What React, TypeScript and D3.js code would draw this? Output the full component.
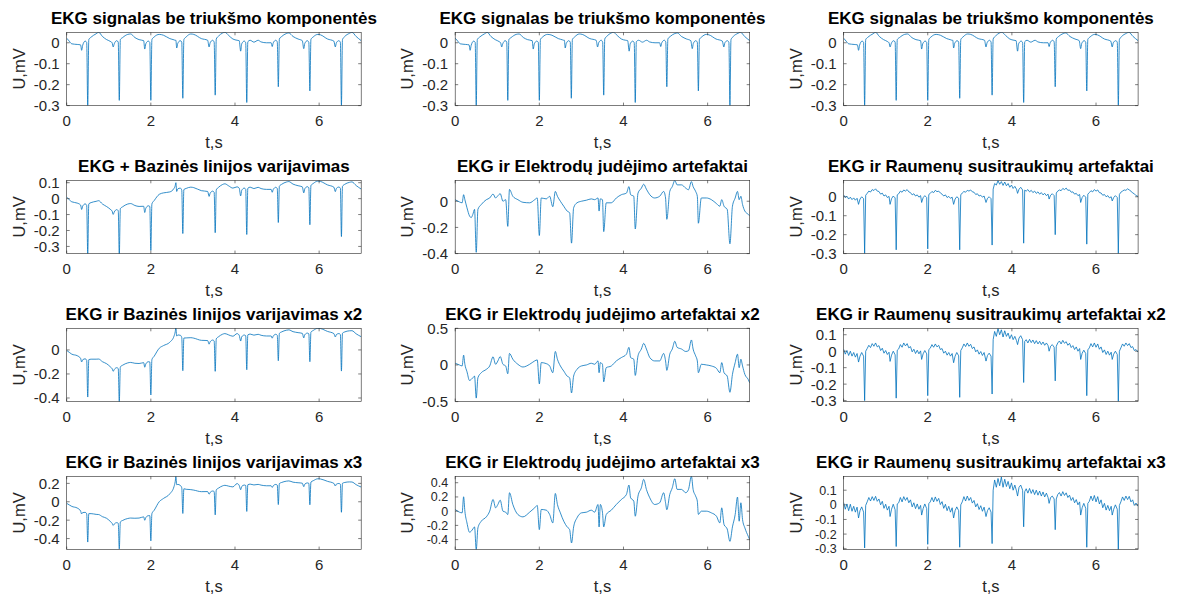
import React from "react";
import * as d3 from "d3";

// figure geometry (MATLAB style 4x3 subplot grid)
const W = 1181;
const H = 597;
const colLeft = [66.7, 455.2, 843.6];
const rowTop = [32.3, 180.3, 328.3, 476.3];
const plotW = 294.5;
const plotH = 73.3;

const xTicks = [0, 2, 4, 6];

// time samples shared by the clean signal and the baseline-wander panels
const ekgT = [
  0, 0.06, 0.12, 0.25, 0.33, 0.355, 0.38, 0.44, 0.475, 0.5, 0.525, 0.58, 0.7, 0.76, 0.85, 0.95,
  1.05, 1.08, 1.105, 1.13, 1.19, 1.225, 1.25, 1.275, 1.33, 1.45, 1.52, 1.62, 1.72, 1.83, 1.855,
  1.88, 1.94, 1.975, 2.0, 2.025, 2.08, 2.2, 2.3, 2.45, 2.55, 2.58, 2.595, 2.615, 2.64, 2.7, 2.735,
  2.76, 2.785, 2.84, 2.95, 3.02, 3.2, 3.35, 3.385, 3.41, 3.47, 3.505, 3.53, 3.555, 3.61, 3.7, 3.76,
  3.85, 3.95, 4.05, 4.1, 4.135, 4.16, 4.22, 4.255, 4.28, 4.305, 4.36, 4.45, 4.55, 4.62, 4.75, 4.86,
  4.885, 4.91, 4.97, 5.005, 5.03, 5.055, 5.11, 5.22, 5.28, 5.38, 5.5, 5.6, 5.635, 5.66, 5.72, 5.755,
  5.78, 5.805, 5.86, 5.97, 6.03, 6.2, 6.35, 6.385, 6.41, 6.47, 6.505, 6.53, 6.555, 6.61, 6.72, 6.78,
  6.88, 7.0,
];

const ekgClean = [
  0.022, 0.008, -0.005, -0.008, -0.01, -0.036, -0.012, 0.008, 0.002, -0.3, 0.015, 0.027, 0.043, 0.05, 0.03, 0.015,
  0.005, 0.0, -0.02, -0.005, 0.01, 0.003, -0.275, 0.015, 0.025, 0.04, 0.042, 0.025, 0.015, 0.01, -0.03,
  -0.005, 0.008, 0.002, -0.275, 0.015, 0.028, 0.04, 0.036, 0.02, 0.014, 0.012, 0.012, -0.025, -0.003, 0.01, 0.003,
  -0.265, 0.015, 0.028, 0.042, 0.04, 0.02, 0.012, -0.02, 0.0, 0.012, 0.003, -0.25, 0.018, 0.032, 0.046, 0.05,
  0.035, 0.018, 0.012, 0.01, -0.04, -0.005, 0.008, 0.0, -0.285, 0.005, 0.012, 0.003, 0.012, 0.004, 0.0, 0.0,
  -0.018, 0.0, 0.012, 0.004, -0.21, 0.018, 0.03, 0.044, 0.047, 0.03, 0.018, 0.01, -0.028, -0.003, 0.01, 0.002,
  -0.23, 0.016, 0.028, 0.04, 0.038, 0.018, 0.008, -0.02, 0.0, 0.01, 0.002, -0.3, 0.015, 0.03, 0.045, 0.05,
  0.03, 0.01,
];

const baseX1 = [
  0.009, -0.006, -0.02, -0.028, -0.04, -0.068, -0.047, -0.033, -0.042, -0.346, -0.033, -0.025, -0.017, -0.013, -0.034, -0.05,
  -0.07, -0.078, -0.099, -0.084, -0.069, -0.076, -0.354, -0.063, -0.051, -0.034, -0.031, -0.043, -0.049, -0.048, -0.087,
  -0.061, -0.045, -0.049, -0.325, -0.033, -0.012, 0.027, 0.036, 0.042, 0.064, 0.082, 0.1, 0.045, 0.061, 0.066, 0.053,
  -0.219, 0.057, 0.064, 0.072, 0.069, 0.05, 0.045, 0.014, 0.034, 0.047, 0.039, -0.214, 0.055, 0.071, 0.088, 0.093,
  0.08, 0.066, 0.074, 0.066, 0.017, 0.052, 0.066, 0.059, -0.225, 0.065, 0.072, 0.063, 0.071, 0.063, 0.058, 0.058,
  0.04, 0.058, 0.071, 0.063, -0.15, 0.078, 0.09, 0.104, 0.107, 0.091, 0.081, 0.074, 0.036, 0.062, 0.075, 0.068,
  -0.164, 0.082, 0.095, 0.11, 0.108, 0.086, 0.072, 0.044, 0.064, 0.073, 0.065, -0.238, 0.077, 0.09, 0.102, 0.105,
  0.082, 0.06,
];

const baseX2 = [
  -0.004, -0.02, -0.035, -0.048, -0.07, -0.1, -0.082, -0.074, -0.086, -0.392, -0.081, -0.077, -0.077, -0.076, -0.098, -0.115,
  -0.145, -0.156, -0.178, -0.163, -0.148, -0.155, -0.433, -0.141, -0.127, -0.108, -0.104, -0.111, -0.113, -0.106, -0.144,
  -0.117, -0.098, -0.1, -0.375, -0.081, -0.052, 0.014, 0.036, 0.064, 0.114, 0.152, 0.188, 0.115, 0.125, 0.122, 0.103,
  -0.173, 0.099, 0.1, 0.102, 0.098, 0.08, 0.078, 0.048, 0.068, 0.082, 0.075, -0.178, 0.092, 0.11, 0.13, 0.136,
  0.125, 0.114, 0.136, 0.122, 0.074, 0.109, 0.124, 0.118, -0.165, 0.125, 0.132, 0.123, 0.13, 0.122, 0.116, 0.116,
  0.098, 0.116, 0.13, 0.122, -0.09, 0.138, 0.15, 0.164, 0.167, 0.152, 0.144, 0.138, 0.1, 0.127, 0.14, 0.134,
  -0.098, 0.148, 0.162, 0.18, 0.178, 0.154, 0.136, 0.108, 0.128, 0.136, 0.128, -0.176, 0.139, 0.15, 0.159, 0.16,
  0.134, 0.11,
];

const baseX3 = [
  -0.017, -0.034, -0.05, -0.068, -0.1, -0.132, -0.117, -0.115, -0.13, -0.438, -0.129, -0.129, -0.137, -0.139, -0.162, -0.18,
  -0.22, -0.234, -0.257, -0.242, -0.227, -0.234, -0.512, -0.219, -0.203, -0.182, -0.177, -0.179, -0.177, -0.164, -0.201,
  -0.173, -0.151, -0.151, -0.425, -0.129, -0.092, 0.001, 0.036, 0.086, 0.164, 0.222, 0.276, 0.185, 0.189, 0.178, 0.153,
  -0.127, 0.141, 0.136, 0.132, 0.127, 0.11, 0.111, 0.082, 0.102, 0.117, 0.111, -0.142, 0.129, 0.149, 0.172, 0.179,
  0.17, 0.162, 0.198, 0.178, 0.131, 0.166, 0.182, 0.177, -0.105, 0.185, 0.192, 0.183, 0.189, 0.181, 0.174, 0.174,
  0.156, 0.174, 0.189, 0.181, -0.03, 0.198, 0.21, 0.224, 0.227, 0.213, 0.207, 0.202, 0.164, 0.192, 0.205, 0.2,
  -0.032, 0.214, 0.229, 0.25, 0.248, 0.222, 0.2, 0.172, 0.192, 0.199, 0.191, -0.114, 0.201, 0.21, 0.216, 0.215,
  0.186, 0.16,
];

// electrode motion artefact panels
const elecT = [
  0, 0.1, 0.165, 0.2, 0.23, 0.28, 0.34, 0.38, 0.42, 0.46,
  0.5, 0.54, 0.62, 0.74, 0.82, 0.9, 0.96, 1.015, 1.07, 1.135,
  1.2, 1.25, 1.29, 1.37, 1.49, 1.61, 1.77, 1.89, 1.95, 2.0,
  2.045, 2.165, 2.245, 2.32, 2.38, 2.43, 2.5, 2.58, 2.66, 2.72,
  2.765, 2.815, 2.895, 3.0, 3.12, 3.235, 3.315, 3.395, 3.42, 3.45,
  3.5, 3.53, 3.59, 3.71, 3.83, 3.95, 4.07, 4.13, 4.17, 4.245,
  4.28, 4.345, 4.425, 4.48, 4.545, 4.625, 4.74, 4.86, 4.955, 5.0,
  5.03, 5.1, 5.16, 5.22, 5.275, 5.38, 5.48, 5.545, 5.615, 5.655,
  5.715, 5.755, 5.78, 5.85, 5.97, 6.09, 6.21, 6.29, 6.335, 6.39,
  6.465, 6.53, 6.59, 6.655, 6.71, 6.75, 6.79, 6.83, 6.885, 6.965,
  7.0,
];

const elecX1 = [
  0.012, -0.005, -0.012, 0.05, 0.012, -0.05, -0.112, -0.125, -0.1, -0.062,
  -0.39, -0.062, -0.025, 0.012, 0.025, 0.055, 0.025, 0.042, 0.058, 0.0,
  0.012, -0.192, 0.09, 0.038, 0.012, -0.008, -0.012, 0.012, 0.025, -0.262,
  0.025, 0.018, 0.038, -0.042, 0.075, 0.038, 0.0, -0.038, -0.075, -0.088,
  -0.32, -0.05, -0.012, 0.0, 0.008, 0.018, 0.012, 0.025, -0.075, 0.018,
  0.012, -0.232, -0.012, -0.012, 0.025, 0.05, 0.062, 0.112, 0.05, 0.038,
  -0.212, 0.062, 0.1, 0.13, 0.092, 0.05, 0.025, 0.038, 0.075, 0.025,
  -0.138, 0.075, 0.112, 0.158, 0.125, 0.125, 0.1, 0.088, 0.15, 0.112,
  0.075, 0.038, -0.168, 0.025, 0.025, 0.012, -0.018, -0.038, 0.012, -0.038,
  -0.062, -0.325, -0.038, 0.025, 0.075, 0.012, 0.038, -0.025, -0.075, -0.1,
  -0.112,
];

const elecX2 = [
  0.023, 0.0, -0.014, 0.134, 0.009, -0.092, -0.212, -0.198, -0.175, -0.152,
  -0.452, -0.175, -0.106, -0.06, -0.014, 0.111, 0.009, 0.055, 0.115, 0.009,
  -0.014, -0.12, 0.157, 0.078, 0.009, -0.028, 0.009, 0.055, 0.069, -0.258,
  0.032, 0.018, -0.014, -0.106, 0.184, 0.078, -0.014, -0.083, -0.152, -0.175,
  -0.382, -0.152, -0.06, -0.014, 0.0, 0.023, 0.009, 0.055, -0.106, 0.032,
  0.009, -0.23, -0.037, -0.014, 0.055, 0.101, 0.147, 0.24, 0.101, 0.078,
  -0.143, 0.124, 0.217, 0.295, 0.217, 0.101, 0.055, 0.055, 0.157, 0.055,
  -0.074, 0.147, 0.217, 0.323, 0.24, 0.217, 0.184, 0.194, 0.341, 0.217,
  0.124, 0.055, -0.106, 0.009, 0.0, -0.014, -0.046, -0.106, 0.032, -0.106,
  -0.152, -0.373, -0.129, 0.032, 0.147, -0.037, 0.078, -0.014, -0.129, -0.198,
  -0.244,
];

const elecX3 = [
  0.024, -0.014, -0.024, 0.202, 0.0, -0.165, -0.296, -0.282, -0.25, -0.221,
  -0.54, -0.235, -0.141, -0.08, 0.0, 0.165, 0.047, 0.094, 0.155, 0.0,
  -0.014, -0.047, 0.259, 0.094, -0.047, -0.08, -0.014, 0.047, 0.08, -0.259,
  0.024, 0.014, -0.047, -0.165, 0.249, 0.094, -0.024, -0.141, -0.221, -0.259,
  -0.447, -0.221, -0.094, -0.024, -0.014, 0.014, -0.014, 0.094, -0.221, 0.094,
  -0.014, -0.221, -0.047, 0.014, 0.094, 0.165, 0.235, 0.367, 0.188, 0.141,
  -0.071, 0.212, 0.329, 0.447, 0.306, 0.188, 0.094, 0.118, 0.259, 0.118,
  0.02, 0.235, 0.329, 0.456, 0.306, 0.306, 0.259, 0.306, 0.49, 0.306,
  0.212, 0.141, -0.045, 0.0, 0.0, -0.024, -0.071, -0.165, 0.047, -0.188,
  -0.25, -0.424, -0.221, -0.047, 0.198, -0.141, 0.118, -0.118, -0.235, -0.353,
  -0.4,
];

// muscle contraction artefact panels
const muscT = [
  0, 0.04, 0.08, 0.12, 0.16, 0.2, 0.24, 0.28, 0.32,
  0.355, 0.39, 0.43, 0.475, 0.5, 0.525,
  0.56, 0.6, 0.64, 0.68, 0.72, 0.76, 0.8, 0.84, 0.88, 0.92, 0.96, 1.0, 1.04, 1.08,
  1.105, 1.14, 1.18, 1.225, 1.25, 1.275,
  1.31, 1.35, 1.39, 1.43, 1.47, 1.51, 1.55, 1.59, 1.63, 1.67, 1.71, 1.75, 1.79, 1.83,
  1.855, 1.89, 1.93, 1.975, 2.0, 2.025,
  2.06, 2.1, 2.14, 2.18, 2.22, 2.26, 2.3, 2.34, 2.38, 2.42, 2.46, 2.5, 2.54, 2.58,
  2.615, 2.65, 2.69, 2.735, 2.76, 2.785,
  2.82, 2.86, 2.9, 2.94, 2.98, 3.02, 3.06, 3.1, 3.14, 3.18, 3.22, 3.26, 3.3, 3.34,
  3.385, 3.42, 3.46, 3.505, 3.53, 3.555,
  3.59, 3.63, 3.67, 3.71, 3.75, 3.79, 3.83, 3.87, 3.91, 3.95, 3.99, 4.03, 4.07, 4.11,
  4.135, 4.17, 4.21, 4.255, 4.28, 4.305,
  4.34, 4.38, 4.42, 4.46, 4.5, 4.54, 4.58, 4.62, 4.66, 4.7, 4.74, 4.78, 4.82, 4.86,
  4.885, 4.92, 4.96, 5.005, 5.03, 5.055,
  5.09, 5.13, 5.17, 5.21, 5.25, 5.29, 5.33, 5.37, 5.41, 5.45, 5.49, 5.53, 5.57, 5.61,
  5.635, 5.67, 5.71, 5.755, 5.78, 5.805,
  5.84, 5.88, 5.92, 5.96, 6.0, 6.04, 6.08, 6.12, 6.16, 6.2, 6.24, 6.28, 6.32, 6.36,
  6.385, 6.42, 6.46, 6.505, 6.53, 6.555,
  6.59, 6.63, 6.67, 6.71, 6.75, 6.79, 6.83, 6.87, 6.91, 6.95, 7.0,
];

const muscX1 = [
  0.01, -0.004, 0.003, -0.012, -0.002, -0.015, -0.006, -0.018, -0.008,
  -0.04, -0.012, 0.0, -0.01, -0.3, 0.008,
  0.018, 0.03, 0.025, 0.038, 0.033, 0.042, 0.03, 0.028, 0.014, 0.019, 0.004, 0.01, -0.004, 0.002,
  -0.04, -0.01, 0.004, -0.006, -0.28, 0.01,
  0.016, 0.03, 0.024, 0.036, 0.03, 0.038, 0.026, 0.022, 0.01, 0.016, 0.004, 0.01, -0.002, 0.006,
  -0.03, -0.005, 0.006, -0.004, -0.275, 0.012,
  0.018, 0.028, 0.022, 0.034, 0.027, 0.03, 0.02, 0.014, 0.004, 0.01, -0.004, 0.002, -0.008, -0.002,
  -0.04, -0.012, 0.0, -0.008, -0.28, 0.01,
  0.02, 0.028, 0.024, 0.034, 0.03, 0.036, 0.026, 0.024, 0.012, 0.016, 0.004, 0.008, -0.002, 0.004,
  -0.03, -0.008, 0.0, -0.01, -0.255, 0.04,
  0.07, 0.062, 0.085, 0.066, 0.08, 0.06, 0.078, 0.058, 0.07, 0.05, 0.062, 0.044, 0.055, 0.04,
  0.018, 0.04, 0.05, 0.036, -0.245, 0.035,
  0.03, 0.038, 0.026, 0.034, 0.022, 0.03, 0.018, 0.026, 0.014, 0.022, 0.01, 0.018, 0.006, 0.014,
  -0.012, 0.008, 0.016, 0.006, -0.2, 0.02,
  0.03, 0.036, 0.032, 0.044, 0.038, 0.046, 0.034, 0.036, 0.024, 0.026, 0.014, 0.018, 0.006, 0.012,
  -0.03, -0.004, 0.008, -0.002, -0.25, 0.014,
  0.022, 0.032, 0.026, 0.038, 0.03, 0.036, 0.022, 0.02, 0.008, 0.012, 0.0, 0.006, -0.006, 0.0,
  -0.022, -0.004, 0.006, -0.004, -0.3, 0.012,
  0.024, 0.03, 0.036, 0.034, 0.042, 0.036, 0.03, 0.02, 0.016, 0.006, 0.002,
];

const muscX2 = [
  0.012, -0.018, 0.004, -0.026, 0.0, -0.03, -0.008, -0.036, -0.014,
  -0.066, -0.03, -0.008, -0.03, -0.3, 0.0,
  0.016, 0.036, 0.022, 0.046, 0.03, 0.05, 0.026, 0.034, 0.004, 0.018, -0.012, 0.004, -0.02, -0.006,
  -0.062, -0.024, 0.0, -0.022, -0.285, 0.006,
  0.014, 0.04, 0.024, 0.05, 0.032, 0.046, 0.02, 0.028, -0.004, 0.012, -0.014, 0.006, -0.016, 0.002,
  -0.05, -0.016, 0.004, -0.016, -0.27, 0.01,
  0.018, 0.04, 0.024, 0.044, 0.026, 0.036, 0.01, 0.016, -0.012, 0.0, -0.024, -0.008, -0.03, -0.014,
  -0.07, -0.03, -0.008, -0.028, -0.28, 0.004,
  0.02, 0.044, 0.028, 0.05, 0.03, 0.042, 0.016, 0.026, -0.004, 0.008, -0.018, -0.002, -0.026, -0.008,
  -0.06, -0.026, -0.012, -0.03, -0.26, 0.07,
  0.12, 0.09, 0.138, 0.1, 0.13, 0.086, 0.124, 0.09, 0.11, 0.076, 0.1, 0.07, 0.09, 0.064,
  0.04, 0.08, 0.094, 0.07, -0.19, 0.06,
  0.07, 0.05, 0.072, 0.052, 0.068, 0.046, 0.064, 0.044, 0.06, 0.04, 0.056, 0.036, 0.05, 0.034,
  0.0, 0.03, 0.04, 0.024, -0.18, 0.03,
  0.05, 0.062, 0.044, 0.066, 0.048, 0.058, 0.036, 0.048, 0.022, 0.034, 0.01, 0.026, 0.0, 0.016,
  -0.05, -0.012, 0.006, -0.014, -0.27, 0.008,
  0.02, 0.046, 0.026, 0.05, 0.024, 0.044, 0.012, 0.026, -0.008, 0.008, -0.02, 0.0, -0.024, -0.006,
  -0.05, -0.018, 0.0, -0.02, -0.305, 0.0,
  0.02, 0.044, 0.03, 0.05, 0.034, 0.046, 0.022, 0.028, 0.004, 0.01, -0.006,
];

const muscX3 = [
  0.016, -0.03, 0.006, -0.04, 0.004, -0.044, -0.01, -0.05, -0.016,
  -0.09, -0.04, -0.014, -0.05, -0.295, -0.004,
  0.02, 0.05, 0.026, 0.056, 0.03, 0.058, 0.024, 0.04, 0.0, 0.024, -0.024, 0.004, -0.036, -0.01,
  -0.08, -0.03, 0.004, -0.034, -0.285, 0.006,
  0.014, 0.05, 0.02, 0.056, 0.03, 0.05, 0.014, 0.034, -0.014, 0.014, -0.026, 0.006, -0.03, -0.004,
  -0.07, -0.026, 0.006, -0.026, -0.27, 0.008,
  0.02, 0.05, 0.02, 0.054, 0.024, 0.044, 0.002, 0.022, -0.024, 0.004, -0.04, -0.01, -0.05, -0.02,
  -0.09, -0.04, -0.014, -0.04, -0.29, 0.0,
  0.02, 0.056, 0.026, 0.06, 0.03, 0.05, 0.012, 0.03, -0.014, 0.008, -0.032, -0.006, -0.044, -0.016,
  -0.08, -0.04, -0.02, -0.05, -0.265, 0.1,
  0.17, 0.12, 0.18, 0.13, 0.19, 0.12, 0.175, 0.125, 0.16, 0.11, 0.15, 0.1, 0.135, 0.095,
  0.06, 0.12, 0.135, 0.1, -0.15, 0.09,
  0.11, 0.08, 0.112, 0.078, 0.104, 0.07, 0.1, 0.066, 0.094, 0.06, 0.088, 0.054, 0.08, 0.05,
  0.01, 0.05, 0.06, 0.04, -0.17, 0.04,
  0.07, 0.084, 0.06, 0.09, 0.064, 0.082, 0.05, 0.066, 0.03, 0.05, 0.014, 0.036, 0.0, 0.02,
  -0.07, -0.02, 0.01, -0.024, -0.29, 0.01,
  0.024, 0.06, 0.028, 0.064, 0.02, 0.056, 0.006, 0.034, -0.02, 0.01, -0.036, -0.004, -0.04, -0.01,
  -0.07, -0.03, 0.0, -0.03, -0.306, -0.004,
  0.02, 0.054, 0.03, 0.06, 0.036, 0.058, 0.02, 0.034, -0.004, 0.012, -0.01,
];

// panel titles, y limits and y ticks, row by row
const titles = [
  ["EKG signalas be triukšmo komponentės", "EKG signalas be triukšmo komponentės", "EKG signalas be triukšmo komponentės"],
  ["EKG + Bazinės linijos varijavimas", "EKG ir Elektrodų judėjimo artefaktai", "EKG ir Raumenų susitraukimų artefaktai"],
  ["EKG ir Bazinės linijos varijavimas x2", "EKG ir Elektrodų judėjimo artefaktai x2", "EKG ir Raumenų susitraukimų artefaktai x2"],
  ["EKG ir Bazinės linijos varijavimas x3", "EKG ir Elektrodų judėjimo artefaktai x3", "EKG ir Raumenų susitraukimų artefaktai x3"],
];

const yLims = [
  [[-0.3, 0.05], [-0.3, 0.05], [-0.3, 0.05]],
  [[-0.345, 0.115], [-0.4, 0.16], [-0.3, 0.087]],
  [[-0.43, 0.18], [-0.5, 0.5], [-0.306, 0.139]],
  [[-0.52, 0.277], [-0.54, 0.49], [-0.306, 0.195]],
];

const yTicks = [
  [[-0.3, -0.2, -0.1, 0], [-0.3, -0.2, -0.1, 0], [-0.3, -0.2, -0.1, 0]],
  [[-0.3, -0.2, -0.1, 0, 0.1], [-0.4, -0.2, 0], [-0.3, -0.2, -0.1, 0]],
  [[-0.4, -0.2, 0], [-0.5, 0, 0.5], [-0.3, -0.2, -0.1, 0, 0.1]],
  [[-0.4, -0.2, 0, 0.2], [-0.4, -0.2, 0, 0.2, 0.4], [-0.3, -0.2, -0.1, 0, 0.1]],
];

const series = [
  [[ekgT, ekgClean], [ekgT, ekgClean], [ekgT, ekgClean]],
  [[ekgT, baseX1], [elecT, elecX1], [muscT, muscX1]],
  [[ekgT, baseX2], [elecT, elecX2], [muscT, muscX2]],
  [[ekgT, baseX3], [elecT, elecX3], [muscT, muscX3]],
];

const FONT = "'Liberation Sans', Arial, Helvetica, sans-serif";
const AX = "#262626";
const LINE = "#0072BD";
const TICK_LEN = 3;

function fmt(v: number) {
  return String(Math.round(v * 10) / 10);
}

function Panel({ row, col }: { row: number; col: number }) {
  const left = colLeft[col];
  const top = rowTop[row];
  const x = d3.scaleLinear().domain([0, 7]).range([left, left + plotW]);
  const y = d3.scaleLinear().domain(yLims[row][col]).range([top + plotH, top]);
  const [ts, vs] = series[row][col];
  const pts: [number, number][] = ts.map((t, i) => [t, vs[i]]);
  // noisy muscle panels are drawn straight point to point
  const line = d3
    .line<[number, number]>()
    .x((d) => x(d[0]))
    .y((d) => y(d[1]))
    .curve(col === 2 && row > 0 ? d3.curveLinear : d3.curveMonotoneX);
  const clipId = `clip-${row}-${col}`;
  const bottom = top + plotH;
  const right = left + plotW;

  // tightly packed y ticks get a slightly smaller font so labels don't collide
  const ticks = yTicks[row][col];
  const gap = Math.abs(y(ticks[1]) - y(ticks[0]));
  const yFont = gap < 15 ? 12.5 : 15;

  return (
    <g>
      <defs>
        <clipPath id={clipId}>
          <rect x={left} y={top} width={plotW} height={plotH} />
        </clipPath>
      </defs>
      <rect x={left} y={top} width={plotW} height={plotH} fill="#fff" />
      <path
        d={line(pts) || ""}
        fill="none"
        stroke={LINE}
        strokeWidth={0.8}
        strokeLinejoin="round"
        clipPath={`url(#${clipId})`}
      />
      <rect x={left} y={top} width={plotW} height={plotH} fill="none" stroke={AX} strokeWidth={0.6} />
      {xTicks.map((t) => (
        <g key={`x${t}`}>
          <line x1={x(t)} x2={x(t)} y1={bottom} y2={bottom - TICK_LEN} stroke={AX} strokeWidth={0.6} />
          <line x1={x(t)} x2={x(t)} y1={top} y2={top + TICK_LEN} stroke={AX} strokeWidth={0.6} />
          <text x={x(t)} y={bottom + 20} textAnchor="middle" fontSize={15} fill={AX} fontFamily={FONT}>
            {t}
          </text>
        </g>
      ))}
      {ticks.map((v) => (
        <g key={`y${v}`}>
          <line x1={left} x2={left + TICK_LEN} y1={y(v)} y2={y(v)} stroke={AX} strokeWidth={0.6} />
          <line x1={right} x2={right - TICK_LEN} y1={y(v)} y2={y(v)} stroke={AX} strokeWidth={0.6} />
          <text x={left - 7} y={y(v)} dy="0.36em" textAnchor="end" fontSize={yFont} fill={AX} fontFamily={FONT}>
            {fmt(v)}
          </text>
        </g>
      ))}
      <text
        x={(left + right) / 2}
        y={top - 8}
        textAnchor="middle"
        fontSize={17}
        fontWeight="bold"
        fill="#000"
        fontFamily={FONT}
      >
        {titles[row][col]}
      </text>
      <text x={(left + right) / 2} y={bottom + 42} textAnchor="middle" fontSize={16.5} fill={AX} fontFamily={FONT}>
        t,s
      </text>
      <text
        transform={`translate(${left - 42},${top + plotH / 2}) rotate(-90)`}
        textAnchor="middle"
        fontSize={16.5}
        fill={AX}
        fontFamily={FONT}
      >
        U,mV
      </text>
    </g>
  );
}

export default function App() {
  const cells: { row: number; col: number }[] = [];
  for (let r = 0; r < 4; r++) for (let c = 0; c < 3; c++) cells.push({ row: r, col: c });
  return (
    <svg
      width={W}
      height={H}
      viewBox={`0 0 ${W} ${H}`}
      style={{ position: "absolute", left: 0, top: 0, background: "#fff" }}
    >
      <rect width={W} height={H} fill="#fff" />
      {cells.map((c) => (
        <Panel key={`${c.row}-${c.col}`} row={c.row} col={c.col} />
      ))}
    </svg>
  );
}
